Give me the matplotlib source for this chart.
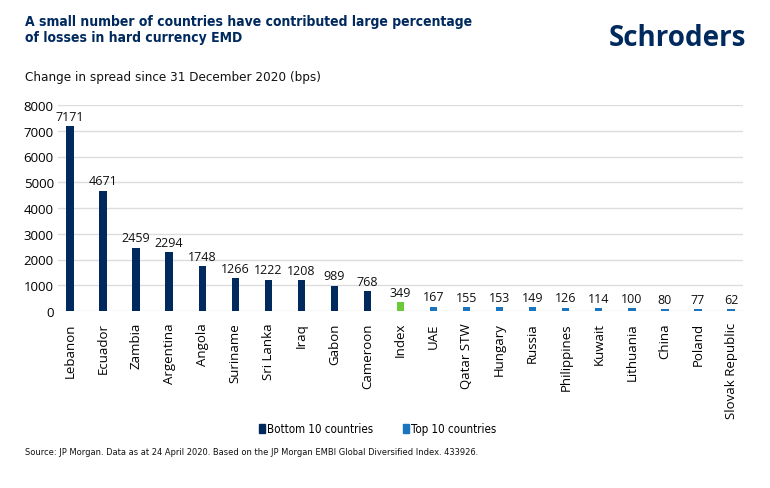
import numpy as np
import matplotlib.pyplot as plt
from matplotlib.patches import Patch

plt.rcParams['font.family'] = ['Open Sans', 'DejaVu Sans']

bottom_names = ['Lebanon', 'Ecuador', 'Zambia', 'Argentina', 'Angola',
                'Suriname', 'Sri Lanka', 'Iraq', 'Gabon', 'Cameroon']
bottom_vals = [7171, 4671, 2459, 2294, 1748, 1266, 1222, 1208, 989, 768]
index_name = ['Index']
index_val = [349]
top_names = ['UAE', 'Qatar STW', 'Hungary', 'Russia', 'Philippines',
             'Kuwait', 'Lithuania', 'China', 'Poland', 'Slovak Republic']
top_vals = [167, 155, 153, 149, 126, 114, 100, 80, 77, 62]
yticks = [0, 1000, 2000, 3000, 4000, 5000, 6000, 7000, 8000]

navy = '#002a5e'
blue = '#1a75c0'
green = '#6cc93a'

names = bottom_names + index_name + top_names
vals = bottom_vals + index_val + top_vals
colors = [navy] * len(bottom_names) + [green] + [blue] * len(top_names)

fig = plt.figure(figsize=(7.7, 4.89), dpi=100)
ax = fig.add_axes([58/770, 1 - 312/489, (743 - 58)/770, (312 - 106)/489])

x = np.arange(len(names))
ax.bar(x, vals, width=0.22, color=colors, zorder=3)
for xi, v in zip(x, vals):
    ax.text(xi, v + 130, str(v), ha='center', va='bottom', fontsize=9, color='#111111')

ax.set_xlim(-0.36, len(names) - 0.64)
ax.set_ylim(0, 8000)
ax.set_yticks(yticks)
ax.set_yticklabels([str(t) for t in yticks], fontsize=9.5)
ax.grid(axis='y', color='#dddddd', linewidth=1, zorder=0)
ax.set_xticks(x)
ax.set_xticklabels(names, rotation=90, fontsize=9.5, va='top')
ax.tick_params(axis='both', length=0, pad=3)
ax.tick_params(axis='x', pad=8)
for s in ax.spines.values():
    s.set_visible(False)

# condensed DejaVu is closest to the narrow house font
fig.text(25/770, 1 - 30/489, 'A small number of countries have contributed large percentage\nof losses in hard currency EMD',
         fontsize=10, fontweight='bold', color=navy, va='center', linespacing=1.2,
         family='DejaVu Sans', fontstretch='condensed')
fig.text(746/770, 1 - 38/489, 'Schroders', fontsize=20, fontweight='bold', color=navy,
         ha='right', va='center')
fig.text(25/770, 1 - 77/489, 'Change in spread since 31 December 2020 (bps)', fontsize=9.6,
         color='#111111', va='center', family='DejaVu Sans', fontstretch='condensed')

handles = [Patch(color=navy, label='Bottom 10 countries'),
           Patch(color=blue, label='Top 10 countries')]
fig.legend(handles=handles, loc='center', bbox_to_anchor=(378/770, 1 - 430/489), ncol=2,
           frameon=False, prop={'family': 'DejaVu Sans', 'stretch': 'condensed', 'size': 8.3},
           handlelength=0.5, handleheight=0.7, handletextpad=0.2, columnspacing=2.6)

fig.text(25/770, 1 - 453/489,
         'Source: JP Morgan. Data as at 24 April 2020. Based on the JP Morgan EMBI Global Diversified Index. 433926.',
         fontsize=6.65, color='#111111', va='center', family='DejaVu Sans', fontstretch='condensed')

fig.savefig('out.png', dpi=100)
